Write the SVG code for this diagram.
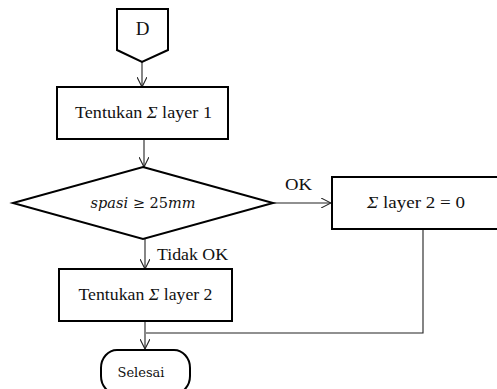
<svg xmlns="http://www.w3.org/2000/svg" width="497" height="389" viewBox="0 0 497 389">
  <style>
    .shape { fill: #ffffff; stroke: #000000; stroke-width: 2; }
    .edge { fill: none; stroke: #222222; stroke-width: 1.1; }
    .txt { font-size: 17px; fill: #111111; }
    .math { font-size: 14.5px; font-style: italic; fill: #111111; }
    .term { font-size: 13px; fill: #111111; }
  </style>
  <defs>
    <marker id="open-arrow" viewBox="0 0 10 10" refX="10" refY="5" markerWidth="10" markerHeight="10" markerUnits="userSpaceOnUse" orient="auto">
      <path d="M0,0 L10,5 L0,10" fill="none" stroke="#222222" stroke-width="1.1"/>
    </marker>
  </defs>

  <rect width="497" height="389" fill="#ffffff"/>

  <!-- connectors -->
  <g id="connectors" font-family="'Liberation Serif', 'Times New Roman', serif">
    <path class="edge" d="M142,62 L142,87" marker-end="url(#open-arrow)"/>
    <path class="edge" d="M144,140 L144,167" marker-end="url(#open-arrow)"/>
    <path class="edge" d="M273,203 L331,203" marker-end="url(#open-arrow)"/>
    <path class="edge" d="M145,239 L145,269" marker-end="url(#open-arrow)"/>
    <path class="edge" d="M145,322 L145,349" marker-end="url(#open-arrow)"/>
    <path class="edge" d="M423,229 L423,333 L146,333"/>
    <text class="txt" x="285" y="190" textLength="27" lengthAdjust="spacingAndGlyphs">OK</text>
    <text class="txt" x="157" y="260" textLength="71" lengthAdjust="spacingAndGlyphs">Tidak OK</text>
  </g>

  <!-- off-page connector D -->
  <g id="node-d" font-family="'Liberation Serif', 'Times New Roman', serif">
    <path class="shape" d="M117,9 L168,9 L168,50 L142,62 L117,50 Z" stroke-width="1.6"/>
    <text x="142.5" y="35" text-anchor="middle" style="font-size:19px" fill="#111111">D</text>
  </g>

  <g id="node-layer1" font-family="'Liberation Serif', 'Times New Roman', serif">
    <rect class="shape" x="57" y="87" width="171" height="52"/>
    <text class="txt" x="143.5" y="118" text-anchor="middle" textLength="137" lengthAdjust="spacingAndGlyphs">Tentukan <tspan font-style="italic">Σ</tspan> layer 1</text>
  </g>

  <g id="node-decision" font-family="'DejaVu Serif', 'Liberation Serif', serif">
    <path class="shape" d="M143,167 L273,203 L143,239 L13,203 Z" stroke-width="1.8"/>
    <text class="math" x="143" y="208" text-anchor="middle">spasi <tspan font-style="normal">≥ 25</tspan>mm</text>
  </g>

  <g id="node-layer2-zero" font-family="'Liberation Serif', 'Times New Roman', serif">
    <rect class="shape" x="332" y="177" width="170" height="52"/>
    <text class="txt" x="416" y="208" text-anchor="middle" textLength="98" lengthAdjust="spacingAndGlyphs"><tspan font-style="italic">Σ</tspan> layer 2 = 0</text>
  </g>

  <g id="node-layer2" font-family="'Liberation Serif', 'Times New Roman', serif">
    <rect class="shape" x="59" y="269" width="173" height="52"/>
    <text class="txt" x="145.5" y="300" text-anchor="middle" textLength="134" lengthAdjust="spacingAndGlyphs">Tentukan <tspan font-style="italic">Σ</tspan> layer 2</text>
  </g>

  <g id="node-end" font-family="'DejaVu Serif', 'Liberation Serif', serif">
    <rect class="shape" x="101" y="350" width="89" height="44" rx="16" ry="18" stroke-width="1.8"/>
    <text class="term" x="141" y="377" text-anchor="middle">Selesai</text>
  </g>
</svg>
